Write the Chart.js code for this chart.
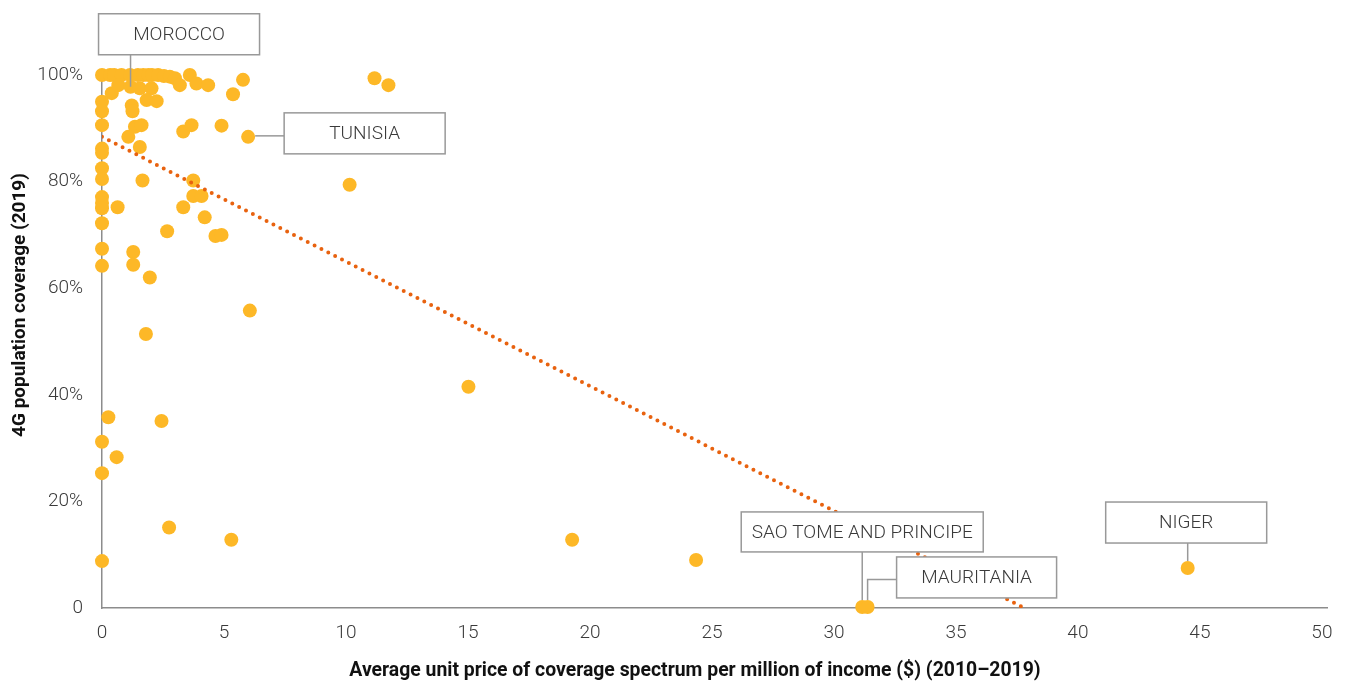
<!DOCTYPE html>
<html>
<head>
<meta charset="utf-8">
<script src="https://cdn.jsdelivr.net/npm/chart.js@4/dist/chart.umd.min.js"></script>
<style>
  body { margin: 0; background: #fff; }
  canvas { display: block; }
</style>
</head>
<body>
<canvas id="scatterChart" width="1346" height="682"></canvas>
<script>
// average unit price of coverage spectrum per million of income ($)
const price = [
    0, 0.33, 0.5, 0.8, 1.15, 1.47, 1.69, 1.9, 2.05, 2.3,
    2.54, 2.78, 2.99, 3.19, 3.6, 3.87, 4.35, 5.37, 5.78, 11.17,
    11.74, 0.4, 0.67, 1.17, 1.55, 2.03, 0, 0, 1.22, 1.25,
    1.83, 2.24, 0, 1.35, 1.62, 1.08, 1.55, 3.33, 3.67, 4.9,
    5.99, 0, 0, 0, 0, 0, 0, 0, 0, 0,
    0, 1.66, 3.74, 3.74, 4.08, 3.33, 0.64, 4.21, 2.67, 4.65,
    4.9, 1.28, 1.28, 1.96, 6.06, 1.8, 10.15, 15.02, 0.26, 2.44,
    0, 0.6, 0, 2.75, 5.3, 0, 19.27, 24.35, 31.16, 31.38,
    44.5
];
// 4G population coverage (%)
const coverage = [
    100, 100, 100, 100, 100, 100, 100, 100, 100, 100,
    99.8, 99.7, 99.4, 98.1, 100, 98.4, 98.1, 96.4, 99.1, 99.4,
    98.1, 96.6, 98.1, 97.8, 97.5, 97.5, 95, 93.2, 94.3, 93.2,
    95.3, 95.1, 90.6, 90.3, 90.6, 88.4, 86.5, 89.4, 90.6, 90.5,
    88.4, 86.2, 85.4, 82.5, 80.5, 77.1, 76, 75, 72.2, 67.4,
    64.2, 80.2, 80.2, 77.3, 77.3, 75.2, 75.2, 73.3, 70.7, 69.8,
    70, 66.8, 64.4, 62, 55.8, 51.4, 79.4, 41.5, 35.8, 35.1,
    31.2, 28.3, 25.3, 15.1, 12.8, 8.8, 12.8, 9, 0.2, 0.2,
    7.5
];
// trend line end points
const trendX = [0, 37.8];
const trendY = [88.4, 0];

// countries with a label, and the point they point at
const labelNames = ['MOROCCO', 'TUNISIA', 'SAO TOME AND PRINCIPE', 'MAURITANIA', 'NIGER'];
const labelPoint = [23, 40, 78, 79, 80];

const xTicks = [0, 5, 10, 15, 20, 25, 30, 35, 40, 45, 50];

const xTitle = 'Average unit price of coverage spectrum per million of income ($) (2010–2019)';
const yTitle = '4G population coverage (2019)';

const dotColor = '#fdb827';
const trendColor = '#e8620f';
const textColor = '#3a3a3a';
const lineColor = '#8c8c8c';
const tickFont = { family: 'Roboto', size: 19, weight: '300' };

// box placement relative to the point (pixels)
const boxes = [
    { dx: -32, dy: -73, w: 161, h: 41, link: 'center' },
    { dx: 36, dy: -24, w: 161, h: 41, link: 'side' },
    { dx: -121, dy: -95, w: 242, h: 40, link: 'down' },
    { dx: 29, dy: -50, w: 160, h: 41, link: 'elbow' },
    { dx: -82, dy: -66, w: 161, h: 41, link: 'down' }
];

const points = price.map((p, i) => ({ x: p, y: coverage[i] }));
const trend = trendX.map((p, i) => ({ x: p, y: trendY[i] }));

// label boxes + axis titles
const labelPlugin = {
    id: 'labelBoxes',
    afterDatasetsDraw(chart) {
        const ctx = chart.ctx;
        const meta = chart.getDatasetMeta(1);
        const r = 7;
        ctx.save();
        ctx.lineWidth = 1.5;
        ctx.strokeStyle = '#999999';
        labelNames.forEach((name, i) => {
            const pt = meta.data[labelPoint[i]];
            const b = boxes[i];
            const bx = pt.x + b.dx, by = pt.y + b.dy;
            ctx.beginPath();
            if (b.link === 'center') {
                ctx.moveTo(pt.x, by + b.h);
                ctx.lineTo(pt.x, pt.y);
            } else if (b.link === 'side') {
                ctx.moveTo(pt.x + r, pt.y - 1);
                ctx.lineTo(bx, pt.y - 1);
            } else if (b.link === 'down') {
                ctx.moveTo(pt.x, by + b.h);
                ctx.lineTo(pt.x, pt.y - r);
            } else {
                const my = by + b.h / 2 + 2;
                ctx.moveTo(bx, my);
                ctx.lineTo(pt.x, my);
                ctx.lineTo(pt.x, pt.y - r);
            }
            ctx.stroke();
            ctx.fillStyle = '#ffffff';
            ctx.fillRect(bx, by, b.w, b.h);
            ctx.strokeRect(bx, by, b.w, b.h);
            ctx.fillStyle = textColor;
            ctx.font = '300 19px Roboto';
            ctx.textAlign = 'center';
            ctx.textBaseline = 'middle';
            ctx.fillText(name, bx + b.w / 2, by + b.h / 2 + 1);
        });
        // axis titles
        ctx.font = 'bold 19.4px Roboto';
        ctx.fillStyle = '#111111';
        ctx.fillText(xTitle, 695, 671);
        ctx.translate(20, 305);
        ctx.rotate(-Math.PI / 2);
        ctx.font = 'bold 19px Roboto';
        ctx.fillText(yTitle, 0, 0);
        ctx.restore();
    }
};

const ctx = document.getElementById('scatterChart').getContext('2d');
new Chart(ctx, {
    type: 'scatter',
    data: {
        datasets: [{
            type: 'line',
            data: trend,
            borderColor: trendColor,
            borderWidth: 4,
            borderDash: [0, 7.7],
            borderCapStyle: 'round',
            pointRadius: 0,
            fill: false
        }, {
            data: points,
            backgroundColor: dotColor,
            borderWidth: 0,
            pointRadius: 7,
            pointHoverRadius: 7,
            clip: false
        }]
    },
    options: {
        responsive: false,
        animation: false,
        events: [],
        layout: { padding: { top: 69.7, right: 16, bottom: 0, left: 0 } },
        plugins: { legend: { display: false }, tooltip: { enabled: false } },
        scales: {
            x: {
                type: 'linear',
                min: 0,
                max: 50.25,
                afterFit: s => { s.height = 74; },
                afterBuildTicks: s => { s.ticks = xTicks.map(v => ({ value: v })); },
                grid: { display: false, drawTicks: false },
                border: { display: true, color: lineColor, width: 1.5 },
                ticks: { color: textColor, font: tickFont, padding: 13.5 }
            },
            y: {
                min: 0,
                max: 101,
                afterFit: s => { s.width = 102; },
                grid: { display: false, drawTicks: false },
                border: { display: true, color: lineColor, width: 1.5 },
                ticks: {
                    stepSize: 20,
                    includeBounds: false,
                    color: textColor,
                    font: tickFont,
                    padding: 19,
                    callback: v => v === 0 ? '0' : v + '%'
                }
            }
        }
    },
    plugins: [labelPlugin]
});
</script>
</body>
</html>
